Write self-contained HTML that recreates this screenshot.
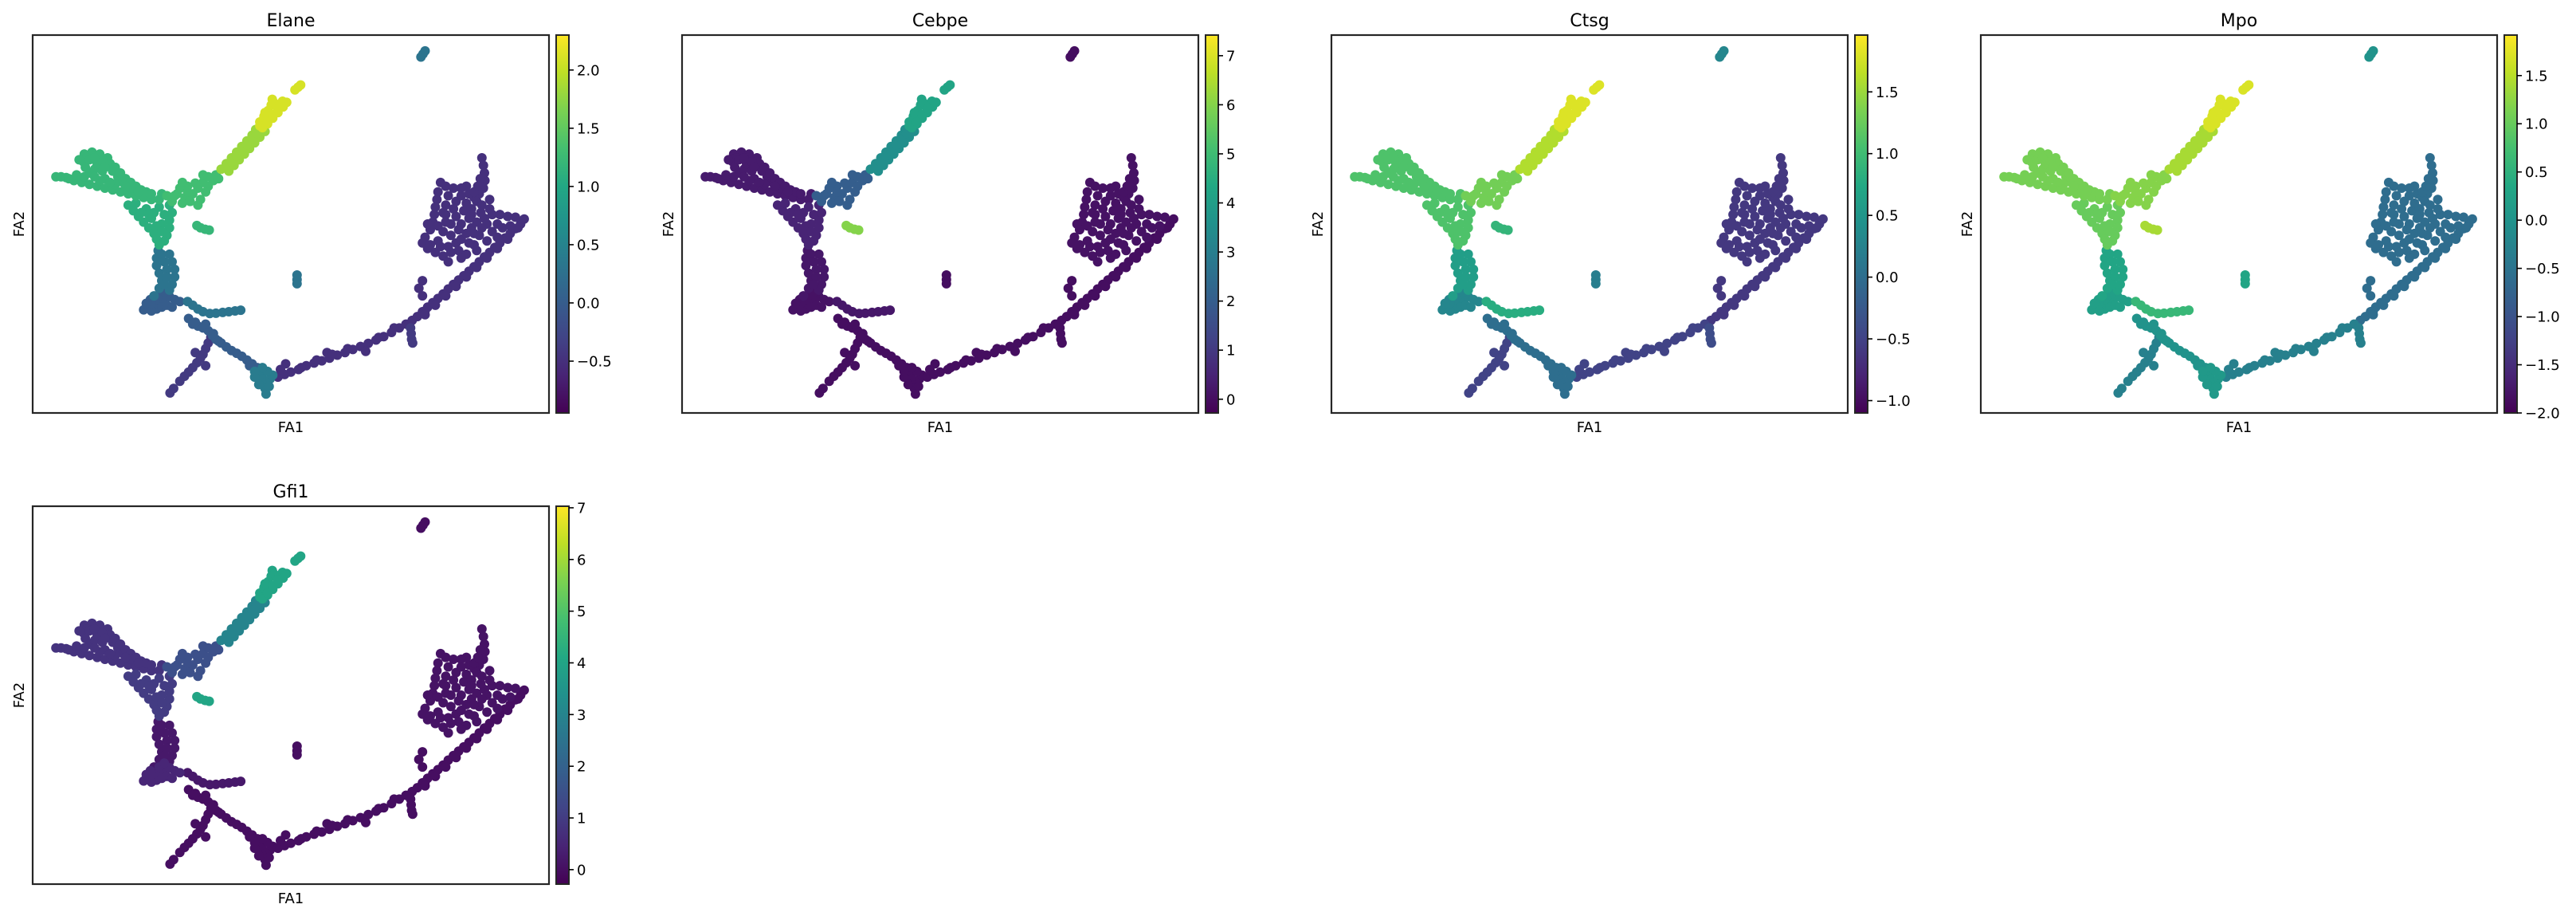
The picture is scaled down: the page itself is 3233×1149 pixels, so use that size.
<!DOCTYPE html>
<html><head><meta charset="utf-8"><style>
html,body{margin:0;padding:0;background:#fff;}
svg{display:block;font-family:"DejaVu Sans","Liberation Sans",sans-serif;}
</style></head><body>
<svg id="fig" width="3233" height="1149" viewBox="0 0 3233 1149" xmlns="http://www.w3.org/2000/svg"></svg>
<script>
// ---- data ----
const geneNames = ["Elane","Cebpe","Ctsg","Mpo","Gfi1"];
const cbMin = [-0.945,-0.28,-1.10,-2.0,-0.28];
const cbMax = [2.30,7.42,1.96,1.92,7.03];
const cbTicks = [[-0.5,0,0.5,1,1.5,2],[0,1,2,3,4,5,6,7],[-1,-0.5,0,0.5,1,1.5],[-2,-1.5,-1,-0.5,0,0.5,1,1.5],[0,1,2,3,4,5,6,7]];
const cbTickLabels = [["−0.5","0.0","0.5","1.0","1.5","2.0"],["0","1","2","3","4","5","6","7"],["−1.0","−0.5","0.0","0.5","1.0","1.5"],["−2.0","−1.5","−1.0","−0.5","0.0","0.5","1.0","1.5"],["0","1","2","3","4","5","6","7"]];
// per-segment expression
const elaneSeg = [0.3,2.1,1.8,1.3,1.2,1.1,1.2,0.3,0.0,0.3,0.0,-0.4,0.4,-0.5,-0.5,-0.5,0.3,-0.4];
const cebpeSeg = [0,4.2,3.5,2.0,0.3,0.5,6.0,0.2,0.1,0.2,0,0,0,0,0,0.1,0,0];
const ctsgSeg  = [0.3,1.8,1.6,1.3,1.1,1.1,0.9,0.6,0.3,0.8,0.0,-0.5,0.0,-0.5,-0.6,-0.6,0.2,-0.4];
const mpoSeg   = [0.0,1.7,1.4,1.2,1.1,1.0,1.4,0.3,0.2,0.6,0.0,-0.3,0.1,-0.3,-0.6,-0.6,0.3,-0.3];
const gfi1Seg  = [0,4.0,3.0,1.5,0.8,1.0,4.0,0.2,0.5,0.2,0,0,0,0,0,0.1,0,0];
const geneSeg = [elaneSeg,cebpeSeg,ctsgSeg,mpoSeg,gfi1Seg];
// cell coordinates (FA1, FA2 in 0-100 axis units), grouped by segment
const segPoints = [
[[75.2,94.2],[75.6,95],[76,95.8]],
[[44,77],[44.8,78.5],[45.6,80],[46.2,81.5],[46.4,83],[46.8,82],[47.8,81.5],[48.4,82.5],[45.5,76.5],[46.5,78],[47.5,79.5],[48.5,81],[49.2,82.2],[50.8,85.5],[51.4,86.2],[51.9,86.8],[44,76],[45,79.5],[44.5,75.5],[45.5,77],[46.5,79],[47.5,80.5]],
[[36.5,64.5],[37.5,66],[38.5,67.5],[39.5,69],[40.5,70.5],[41.5,72],[42.5,73.5],[43.2,75],[38,64],[39,65.5],[40,67],[41,68.5],[42,70],[43,71.5],[44,73],[45,74.5],[37.5,65],[38.5,66.5],[39.5,68],[40.5,69.5],[41.5,71],[42.5,72.5],[43.5,74]],
[[28,58],[29.5,57],[31,58],[32,59.5],[33,61],[34,62.5],[35.5,63],[30,60],[31.5,60.8],[33.5,58.5],[27,56],[29,55.5],[32.5,56.5],[26,57.5],[35,61.5],[28.5,59.5],[32,55],[30.5,56],[34,60],[36,62],[30,58.5],[27.5,57.5],[33,63],[29,61]],
[[4.5,62.5],[5.5,62.5],[6.5,62.3],[8,61.5],[9.5,61],[11,60.5],[12.5,60],[14,59.5],[15.5,59],[17,58.5],[18.5,58],[20,57.5],[21.5,57],[23,56.5],[24.5,56.5],[10,68.5],[11.5,69],[13,68.5],[14.5,67.5],[15,66],[9.8,66.5],[10.2,65],[11,63.5],[12,64.5],[13.5,64],[15.5,64],[16.5,62.5],[17.5,61],[14,62],[12.5,66],[10.5,67.5],[16,60.5],[19,59.5],[7,62],[13,61.5],[9,67],[11,67],[12,67.5],[13.5,66.5],[14,65],[16,65],[17,63.5],[18,62],[19,61],[20,60],[21,59],[22,58.5],[8.5,63],[10,62.5],[12,62.5],[15,61],[18,60],[20.5,58.5],[23,58],[25,58]],
[[18.5,55],[19.5,53.5],[20.5,52],[21.5,50.5],[22.5,49],[23.5,47.5],[24,46],[24.5,44.5],[25.5,52.5],[26.5,51],[26.5,49],[26,47],[25.5,45.5],[22,54],[23.5,53],[24.5,54.5],[20,55.5],[27,53],[26.5,55],[21,53],[23,51.5],[25,50],[22.5,52.5],[24,49.5],[25,48]],
[[31.8,49.6],[32.5,49],[33.4,48.6],[34.2,48.4]],
[[24.3,43],[24,41],[24,39],[24.5,37],[25,35],[26.5,42],[27,40],[27.5,38],[27.5,36],[27,34],[26.5,32.5],[24.5,33],[23.5,31],[25,42],[25.5,40],[26,38],[26,36],[25.5,34]],
[[21.5,27.3],[22.5,28],[23.5,28.8],[24.5,29.5],[25.5,30.3],[26.5,30.8],[27.5,30],[28.5,29.5],[24,27.5],[25,28],[22.8,30],[26,28.5],[23,27],[27,28],[23,29],[22,29],[24.5,31],[25.5,32]],
[[30,29.5],[31,28.5],[32,27.5],[33,26.8],[34.3,26.3],[35.5,26.4],[36.8,26.6],[38,26.8],[39.2,27],[40.3,27.2]],
[[30.2,25],[31,23.5],[32,23],[33,22.5],[34,21.8],[34.8,20.5],[35.5,19.5],[36.5,18.5],[37.5,17.5],[38.5,16.5],[39.5,15.8],[40.5,15],[41.5,14],[42.5,13],[43.5,12],[44.3,11],[31.5,24],[33.5,23.5],[35,21],[36,19],[42,12.5]],
[[34.5,20],[34,18.5],[33.5,17],[33,15.5],[32.5,14.5],[31.8,13.3],[31,12],[30.2,10.8],[29.4,9.7],[28.5,8.4],[27.3,6.5],[26.6,5.3],[33.5,12.5],[31.5,16]],
[[44,10],[44.5,9],[45,8],[45,6.5],[45.2,5],[43.8,7.5],[46,9],[46.5,10],[45.5,11],[43,9.5],[44.5,12],[43,11],[45.8,7]],
[[47.5,9.5],[48.8,10.2],[50,10.8],[51.5,11.5],[53,12.5],[54.5,13.2],[56,13.8],[57.5,14.5],[59,15.3],[60.5,16],[62,16.8],[63.5,17.6],[65,18.4],[66.5,19.3],[68,20.2],[69.5,21.3],[71,22.5],[72.3,23.5],[49,13],[57,16],[64.5,16.3],[48,11.5],[52,12],[55,14],[58,15.5],[61,17],[67,20],[70,22.5]],
[[73.5,24.5],[74.5,25.5],[75.5,26.8],[76.5,28],[77.5,29.2],[78.5,30.3],[79.5,31.5],[80.5,32.8],[81.5,34],[82.5,35.2],[83.5,36.3],[84.5,37.5],[85.5,38.7],[86.5,40],[87.5,41.3],[88.5,42.5],[89.5,43.8],[90.5,45],[91.5,46.3],[92.5,47.5],[93.5,48.8],[94.5,50],[95.2,51.3],[75.5,31],[74.8,33],[75.5,35],[76,27],[76,26],[78,28.5],[80,31],[82,33.5],[84,36],[86,38.5],[88,41],[90,43.5],[92,46],[94,49]],
[[87,67.5],[87.3,65.5],[87.5,63.5],[87.6,61.5],[87.3,59.5],[86.5,58],[85.5,57],[84.5,58],[84,60],[79,61],[80,60],[81.5,59.5],[83,59.5],[78.5,58.5],[78.3,56.5],[78,54.5],[77.8,52.5],[77.5,50.5],[77,48.5],[76,46.5],[75.5,45],[76.5,43.5],[78,42.5],[79.5,41.5],[80.5,40],[82,45],[83,46],[84,47.5],[85,49],[86,50.5],[87.5,51.5],[89,52.5],[90.5,52.5],[92,52],[93.5,51.8],[88,50],[89,48],[90,46.5],[81,50],[82,52],[83.5,53.5],[85,54],[86,56],[80,55],[79.5,48],[81,47],[82.5,43],[84,42],[85.5,44.5],[90,50],[88.5,54],[86.8,53],[78.5,45.5],[80.5,44],[83,50],[84.5,51.5],[80,52.5],[76.5,50],[77,44.5],[79,44],[81,42.5],[83,41],[84.5,45],[86.5,47],[88,45.5],[91,49],[92.5,49.5],[82,56],[83,57.5],[84,55.5],[80.5,57.5],[79.5,53],[81.5,54],[85,52.5],[87,55],[88.5,56.5],[87,49],[85.5,47.5],[86,43],[80,50.5],[78.5,49.5],[82.5,48.5],[85.5,58.5],[86.2,60],[86.7,62]],
[[51.2,36.5],[51.2,35.3],[51.2,34.2]],
[[73.2,22.5],[73.3,21],[73.4,19.5],[73.6,18.5]]
];
// ---- layout ----
const panelLeft = [41,856,1671,2486,41];
const panelTop = [44,44,44,44,635];
const PW = 648, PH = 474;
const NS = "http://www.w3.org/2000/svg";
const svg = document.getElementById("fig");
const vir = [[68,1,84],[72,36,117],[65,68,135],[53,95,141],[42,120,142],[33,145,140],[34,168,132],[68,191,112],[122,209,81],[189,223,38],[253,231,37]];
function viridis(t){t=Math.max(0,Math.min(1,t));const f=t*(vir.length-1);const i=Math.min(vir.length-2,Math.floor(f));const u=f-i;const a=vir[i],b=vir[i+1];return "rgb("+[0,1,2].map(k=>Math.round(a[k]+(b[k]-a[k])*u)).join(",")+")";}
function mk(tag,attrs,parent){const e=document.createElementNS(NS,tag);for(const k in attrs)e.setAttribute(k,attrs[k]);(parent||svg).appendChild(e);return e;}
const defs = mk("defs",{});
const grad = mk("linearGradient",{id:"vgrad",x1:"0",y1:"1",x2:"0",y2:"0"},defs);
vir.forEach((c,i)=>mk("stop",{offset:(i/(vir.length-1)),"stop-color":"rgb("+c.join(",")+")"},grad));

for(let p=0;p<5;p++){
  const L=panelLeft[p],T=panelTop[p];
  const xs=v=>L+v/100*PW, ys=v=>T+PH-v/100*PH;
  const g=mk("g",{});
  
  
  const title=mk("text",{x:L+PW/2,y:T-11,"text-anchor":"middle","font-size":"22",fill:"#000"},g);
  title.textContent=geneNames[p];
  
  
  const cells=[];
  segPoints.forEach((pts,s)=>pts.forEach(pt=>cells.push([pt[0],pt[1],geneSeg[p][s]])));
  cells.sort((a,b)=>a[2]-b[2]);
  const dots=mk("g",{},g);
  
  
  cells.forEach(c=>{
    const d=mk("circle",{cx:xs(c[0]).toFixed(1),cy:ys(c[1]).toFixed(1),r:"6",fill:viridis((c[2]-cbMin[p])/(cbMax[p]-cbMin[p]))},dots);
    
    
  });
  const frame=mk("rect",{x:L,y:T,width:PW,height:PH,fill:"none",stroke:"#262626","stroke-width":"2.2"},g);
  
  
  const xl=mk("text",{x:L+PW/2,y:T+PH+24,"text-anchor":"middle","font-size":"18",fill:"#000"},g);
  xl.textContent="FA1";
  
  
  const yl=mk("text",{x:0,y:0,"text-anchor":"middle","font-size":"18",fill:"#000",transform:"translate("+(L-11)+","+(T+PH/2)+") rotate(-90)"},g);
  yl.textContent="FA2";
  
  
  const CX=L+657, CW=16;
  const cb=mk("rect",{x:CX,y:T,width:CW,height:PH,fill:"url(#vgrad)",stroke:"#262626","stroke-width":"2"},g);
  
  
  cbTicks[p].forEach((v,i)=>{
    const y=T+PH-(v-cbMin[p])/(cbMax[p]-cbMin[p])*PH;
    const tk=mk("line",{x1:CX+CW,x2:CX+CW+6,y1:y,y2:y,stroke:"#000","stroke-width":"1.6"},g);
    
    
    const tl=mk("text",{x:CX+CW+10,y:y+6.5,"font-size":"18",fill:"#000"},g);
    tl.textContent=cbTickLabels[p][i];
    
    
  });
}
</script>
</body></html>
